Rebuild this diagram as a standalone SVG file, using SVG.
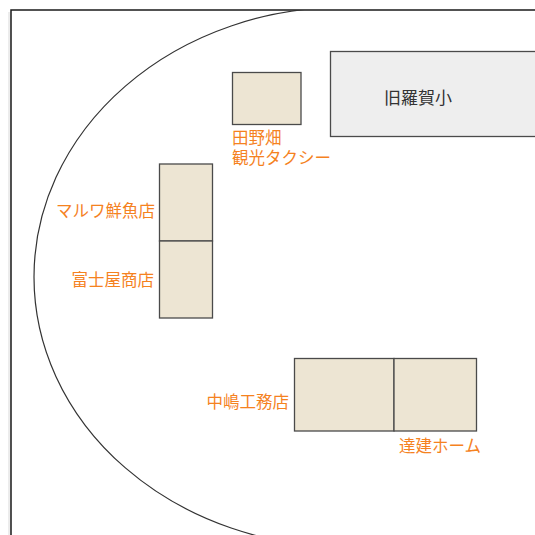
<svg xmlns="http://www.w3.org/2000/svg" width="535" height="535" viewBox="0 0 535 535">
<style>
.bg{fill:#ffffff}
.frame{fill:#ffffff;stroke:#1a1a1a;stroke-width:1.5}
.area{fill:none;stroke:#333333;stroke-width:1.2}
.bld{fill:#ede5d3;stroke:#4a4a4a;stroke-width:1.3}
.school{fill:#eeeeee;stroke:#4a4a4a;stroke-width:1.3}
.lbl{font-family:"Noto Sans CJK JP","Noto Sans",sans-serif;font-size:16.5px;fill:#f5821f}
.name{font-family:"Noto Sans CJK JP","Noto Sans",sans-serif;font-size:17px;fill:#333333}
</style>
<defs>
<clipPath id="fc"><rect x="11" y="10" width="335" height="540"/></clipPath>
</defs>
<rect class="bg" x="0" y="0" width="535" height="535"/>
<rect x="8" y="12" width="3" height="540" fill="#ececec"/>
<rect class="frame" x="11" y="10" width="560" height="560"/>
<g id="area" clip-path="url(#fc)">
<ellipse class="area" cx="346" cy="277" rx="312" ry="270"/>
</g>
<g id="kyuraga">
<rect class="school" x="330.5" y="51.5" width="230" height="85"/>
<text class="name" x="418" y="104" text-anchor="middle">旧羅賀小</text>
</g>
<g id="tanohata">
<rect class="bld" x="232.5" y="72.5" width="68.5" height="52"/>
<text class="lbl" x="232" y="143.5"><tspan x="232" y="143.5">田野畑</tspan><tspan x="232" y="163.5">観光タクシー</tspan></text>
</g>
<g id="maruwa">
<rect class="bld" x="159.5" y="164" width="53" height="77"/>
<text class="lbl" x="155" y="217" text-anchor="end">マルワ鮮魚店</text>
</g>
<g id="fujiya">
<rect class="bld" x="159.5" y="241" width="53" height="77"/>
<text class="lbl" x="154" y="286" text-anchor="end">富士屋商店</text>
</g>
<g id="nakajima">
<rect class="bld" x="294.5" y="358.5" width="99.5" height="72.5"/>
<text class="lbl" x="289" y="408" text-anchor="end">中嶋工務店</text>
</g>
<g id="tatsuken">
<rect class="bld" x="394" y="358.5" width="82.5" height="72.5"/>
<text class="lbl" x="399" y="452">達建ホーム</text>
</g>
<g id="connectors"></g>
</svg>
